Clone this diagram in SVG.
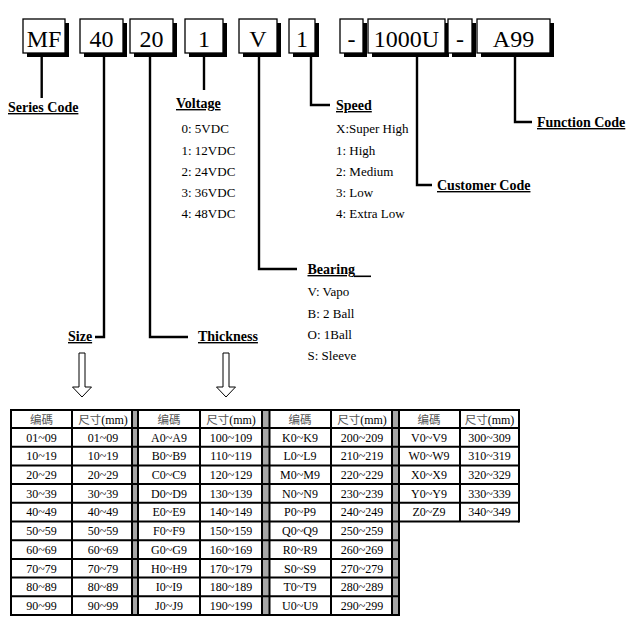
<svg xmlns="http://www.w3.org/2000/svg" width="636" height="624" viewBox="0 0 636 624">
<style>
.box{fill:#fff;stroke:#000;stroke-width:1.3}
.sh{fill:#000}
.bt{font-family:"Liberation Serif","Times New Roman",serif;font-size:24px;text-anchor:middle;fill:#000}
.lbl{font-family:"Liberation Serif","Times New Roman",serif;font-size:14px;font-weight:bold;text-decoration:underline;fill:#000}
.it{font-family:"Liberation Serif","Times New Roman",serif;font-size:13px;fill:#000}
.conn{fill:none;stroke:#000;stroke-width:2.4}
.arr{fill:#fff;stroke:#000;stroke-width:1}
.td{font-family:"Liberation Serif","Times New Roman",serif;font-size:12px;text-anchor:middle;fill:#000}
.cjk{font-family:"Noto Sans CJK TC","Noto Sans CJK SC",sans-serif;font-size:11.5px;fill:#555}
.grid{stroke:#000;stroke-width:2;fill:none}
.gap{fill:#a6a6a6}
</style>

<g id="connectors">
<path class="conn" d="M41.7 53V98"/>
<path class="conn" d="M104 53V337H95"/>
<path class="conn" d="M150 53V337H188"/>
<path class="conn" d="M204 53V90"/>
<path class="conn" d="M259 53V269H297"/>
<path class="conn" d="M311 53V105H330"/>
<path class="conn" d="M417 53V185H432"/>
<path class="conn" d="M515 53V122H532"/>
</g>

<g id="box-mf"><rect class="sh" x="27" y="23" width="42" height="34"/><rect class="box" x="23" y="19" width="42" height="34"/><text class="bt" x="44" y="47">MF</text></g>
<g id="box-40"><rect class="sh" x="84" y="23" width="43" height="34"/><rect class="box" x="80" y="19" width="43" height="34"/><text class="bt" x="101.5" y="47">40</text></g>
<g id="box-20"><rect class="sh" x="134" y="23" width="43" height="34"/><rect class="box" x="130" y="19" width="43" height="34"/><text class="bt" x="151.5" y="47">20</text></g>
<g id="box-voltage"><rect class="sh" x="189" y="23" width="38" height="34"/><rect class="box" x="185" y="19" width="38" height="34"/><text class="bt" x="204" y="47">1</text></g>
<g id="box-bearing"><rect class="sh" x="243" y="23" width="38" height="34"/><rect class="box" x="239" y="19" width="38" height="34"/><text class="bt" x="258" y="47">V</text></g>
<g id="box-speed"><rect class="sh" x="293" y="23" width="26" height="34"/><rect class="box" x="289" y="19" width="26" height="34"/><text class="bt" x="302" y="47">1</text></g>
<g id="box-dash1"><rect class="sh" x="344" y="23" width="23" height="34"/><rect class="box" x="340" y="19" width="23" height="34"/><text class="bt" x="351.5" y="47">-</text></g>
<g id="box-customer"><rect class="sh" x="372" y="23" width="77" height="34"/><rect class="box" x="368" y="19" width="77" height="34"/><text class="bt" x="406.5" y="47">1000U</text></g>
<g id="box-dash2"><rect class="sh" x="452" y="23" width="24" height="34"/><rect class="box" x="448" y="19" width="24" height="34"/><text class="bt" x="460" y="47">-</text></g>
<g id="box-function"><rect class="sh" x="481" y="23" width="73" height="34"/><rect class="box" x="477" y="19" width="73" height="34"/><text class="bt" x="513.5" y="47">A99</text></g>

<g id="series-code"><text class="lbl" x="8" y="112">Series Code</text></g>
<g id="voltage">
<text class="lbl" x="176" y="108">Voltage</text>
<text class="it" x="181.5" y="133">0: 5VDC</text>
<text class="it" x="181.5" y="155">1: 12VDC</text>
<text class="it" x="181.5" y="176">2: 24VDC</text>
<text class="it" x="181.5" y="197">3: 36VDC</text>
<text class="it" x="181.5" y="218">4: 48VDC</text>
</g>
<g id="speed">
<text class="lbl" x="336" y="110">Speed</text>
<text class="it" x="336" y="133">X:Super High</text>
<text class="it" x="336" y="155">1: High</text>
<text class="it" x="336" y="176">2: Medium</text>
<text class="it" x="336" y="197">3: Low</text>
<text class="it" x="336" y="218">4: Extra Low</text>
</g>
<g id="customer-code"><text class="lbl" x="437" y="190">Customer Code</text></g>
<g id="function-code"><text class="lbl" x="537" y="127">Function Code</text></g>
<g id="bearing">
<text class="lbl" x="307.5" y="274">Bearing</text>
<line x1="354" y1="276.3" x2="371" y2="276.3" stroke="#000" stroke-width="1.6"/>
<text class="it" x="307.5" y="296">V: Vapo</text>
<text class="it" x="307.5" y="318">B: 2 Ball</text>
<text class="it" x="307.5" y="339">O: 1Ball</text>
<text class="it" x="307.5" y="360">S: Sleeve</text>
</g>
<g id="size"><text class="lbl" x="68" y="341">Size</text></g>
<g id="thickness"><text class="lbl" x="198" y="341">Thickness</text></g>

<g id="arrows">
<path class="arr" d="M79 353H85V387H91.5L82 397L72.5 387H79Z"/>
<path class="arr" d="M223 353H229V387H235.5L226 397L216.5 387H223Z"/>
</g>

<g id="table">
<rect x="11" y="410" width="508" height="111.5" fill="#fff"/>
<rect class="gap" x="132" y="410" width="6" height="205"/>
<rect class="gap" x="262" y="410" width="7.5" height="205"/>
<rect class="gap" x="392" y="410" width="7" height="205"/>
<g class="grid">
<path d="M11 410H519M11 428H519M11 446.7H519M11 465.4H519M11 484.1H519M11 502.8H519M11 521.5H519"/>
<path d="M11 540.2H399M11 558.9H399M11 577.6H399M11 596.3H399M11 615H399"/>
<path d="M11 409V616M72 410V615M132 410V615M138 410V615M200 410V615M262 410V615M269.5 410V615M331 410V615M392 410V615M399 410V616"/>
<path d="M460 410V521.5M519 409V522.5"/>
</g>
<g id="headers">
<text class="cjk" x="41.5" y="423.5" text-anchor="middle">编碼</text>
<text x="103" y="423.5" text-anchor="middle"><tspan class="cjk">尺寸</tspan><tspan class="td">(mm)</tspan></text>
<text class="cjk" x="169" y="423.5" text-anchor="middle">编碼</text>
<text x="231" y="423.5" text-anchor="middle"><tspan class="cjk">尺寸</tspan><tspan class="td">(mm)</tspan></text>
<text class="cjk" x="300" y="423.5" text-anchor="middle">编碼</text>
<text x="362" y="423.5" text-anchor="middle"><tspan class="cjk">尺寸</tspan><tspan class="td">(mm)</tspan></text>
<text class="cjk" x="429" y="423.5" text-anchor="middle">编碼</text>
<text x="489.5" y="423.5" text-anchor="middle"><tspan class="cjk">尺寸</tspan><tspan class="td">(mm)</tspan></text>
</g>
<g id="col1">
<text class="td" x="41.5" y="441.6">01~09</text><text class="td" x="103" y="441.6">01~09</text>
<text class="td" x="41.5" y="460.3">10~19</text><text class="td" x="103" y="460.3">10~19</text>
<text class="td" x="41.5" y="479">20~29</text><text class="td" x="103" y="479">20~29</text>
<text class="td" x="41.5" y="497.7">30~39</text><text class="td" x="103" y="497.7">30~39</text>
<text class="td" x="41.5" y="516.4">40~49</text><text class="td" x="103" y="516.4">40~49</text>
<text class="td" x="41.5" y="535.1">50~59</text><text class="td" x="103" y="535.1">50~59</text>
<text class="td" x="41.5" y="553.8">60~69</text><text class="td" x="103" y="553.8">60~69</text>
<text class="td" x="41.5" y="572.5">70~79</text><text class="td" x="103" y="572.5">70~79</text>
<text class="td" x="41.5" y="591.2">80~89</text><text class="td" x="103" y="591.2">80~89</text>
<text class="td" x="41.5" y="609.9">90~99</text><text class="td" x="103" y="609.9">90~99</text>
</g>
<g id="col2">
<text class="td" x="169" y="441.6">A0~A9</text><text class="td" x="231" y="441.6">100~109</text>
<text class="td" x="169" y="460.3">B0~B9</text><text class="td" x="231" y="460.3">110~119</text>
<text class="td" x="169" y="479">C0~C9</text><text class="td" x="231" y="479">120~129</text>
<text class="td" x="169" y="497.7">D0~D9</text><text class="td" x="231" y="497.7">130~139</text>
<text class="td" x="169" y="516.4">E0~E9</text><text class="td" x="231" y="516.4">140~149</text>
<text class="td" x="169" y="535.1">F0~F9</text><text class="td" x="231" y="535.1">150~159</text>
<text class="td" x="169" y="553.8">G0~G9</text><text class="td" x="231" y="553.8">160~169</text>
<text class="td" x="169" y="572.5">H0~H9</text><text class="td" x="231" y="572.5">170~179</text>
<text class="td" x="169" y="591.2">I0~I9</text><text class="td" x="231" y="591.2">180~189</text>
<text class="td" x="169" y="609.9">J0~J9</text><text class="td" x="231" y="609.9">190~199</text>
</g>
<g id="col3">
<text class="td" x="300" y="441.6">K0~K9</text><text class="td" x="362" y="441.6">200~209</text>
<text class="td" x="300" y="460.3">L0~L9</text><text class="td" x="362" y="460.3">210~219</text>
<text class="td" x="300" y="479">M0~M9</text><text class="td" x="362" y="479">220~229</text>
<text class="td" x="300" y="497.7">N0~N9</text><text class="td" x="362" y="497.7">230~239</text>
<text class="td" x="300" y="516.4">P0~P9</text><text class="td" x="362" y="516.4">240~249</text>
<text class="td" x="300" y="535.1">Q0~Q9</text><text class="td" x="362" y="535.1">250~259</text>
<text class="td" x="300" y="553.8">R0~R9</text><text class="td" x="362" y="553.8">260~269</text>
<text class="td" x="300" y="572.5">S0~S9</text><text class="td" x="362" y="572.5">270~279</text>
<text class="td" x="300" y="591.2">T0~T9</text><text class="td" x="362" y="591.2">280~289</text>
<text class="td" x="300" y="609.9">U0~U9</text><text class="td" x="362" y="609.9">290~299</text>
</g>
<g id="col4">
<text class="td" x="429" y="441.6">V0~V9</text><text class="td" x="489.5" y="441.6">300~309</text>
<text class="td" x="429" y="460.3">W0~W9</text><text class="td" x="489.5" y="460.3">310~319</text>
<text class="td" x="429" y="479">X0~X9</text><text class="td" x="489.5" y="479">320~329</text>
<text class="td" x="429" y="497.7">Y0~Y9</text><text class="td" x="489.5" y="497.7">330~339</text>
<text class="td" x="429" y="516.4">Z0~Z9</text><text class="td" x="489.5" y="516.4">340~349</text>
</g>
</g>
</svg>
